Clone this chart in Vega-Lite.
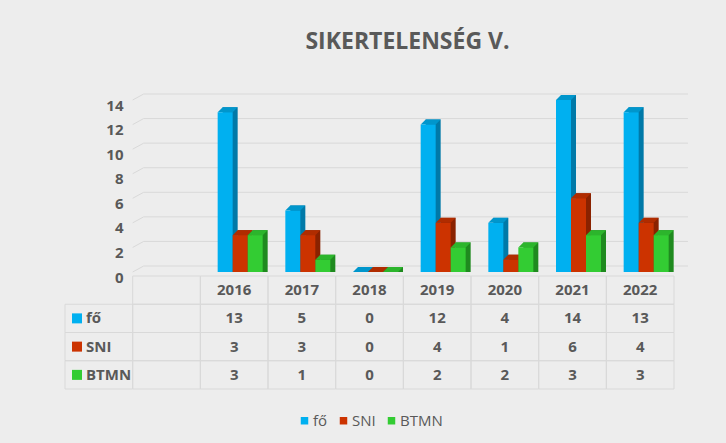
{
  "$schema": "https://vega.github.io/schema/vega-lite/v6.json",
  "background": "#ededed",
  "padding": {"left": 64, "top": 30, "right": 39, "bottom": 15},
  "title": {"text": "SIKERTELENSÉG V.", "dx": 31, "offset": 40},
  "datasets": {
    "bars": [
      {"year": "2016", "series": "fő", "value": 13},
      {"year": "2017", "series": "fő", "value": 5},
      {"year": "2018", "series": "fő", "value": 0},
      {"year": "2019", "series": "fő", "value": 12},
      {"year": "2020", "series": "fő", "value": 4},
      {"year": "2021", "series": "fő", "value": 14},
      {"year": "2022", "series": "fő", "value": 13},
      {"year": "2016", "series": "SNI", "value": 3},
      {"year": "2017", "series": "SNI", "value": 3},
      {"year": "2018", "series": "SNI", "value": 0},
      {"year": "2019", "series": "SNI", "value": 4},
      {"year": "2020", "series": "SNI", "value": 1},
      {"year": "2021", "series": "SNI", "value": 6},
      {"year": "2022", "series": "SNI", "value": 4},
      {"year": "2016", "series": "BTMN", "value": 3},
      {"year": "2017", "series": "BTMN", "value": 1},
      {"year": "2018", "series": "BTMN", "value": 0},
      {"year": "2019", "series": "BTMN", "value": 2},
      {"year": "2020", "series": "BTMN", "value": 2},
      {"year": "2021", "series": "BTMN", "value": 3},
      {"year": "2022", "series": "BTMN", "value": 3}
    ],
    "grid": [{"g": 0}, {"g": 2}, {"g": 4}, {"g": 6}, {"g": 8}, {"g": 10}, {"g": 12}, {"g": 14}]
  },
  "bounds": "flush",
  "spacing": 4,
  "vconcat": [
    {
      "width": 609,
      "height": 172,
      "encoding": {
        "x": {"field": "year", "type": "nominal", "axis": null,
              "scale": {"domain": ["hdr", "blank", "2016", "2017", "2018", "2019", "2020", "2021", "2022"], "paddingInner": 0, "paddingOuter": 0}},
        "y": {"field": "value", "type": "quantitative", "stack": null,
              "scale": {"domain": [0, 14], "nice": false},
              "axis": {"values": [0, 2, 4, 6, 8, 10, 12, 14], "title": null, "grid": false, "ticks": false, "domain": false,
                       "offset": -68, "labelPadding": 10, "labelOffset": 5,
                       "labelFont": "Open Sans", "labelFontSize": 15, "labelFontWeight": "bold", "labelColor": "#595959"}}
      },
      "layer": [
        {
          "data": {"name": "grid"},
          "mark": {"type": "rule", "color": "#d9d9d9", "strokeWidth": 1, "xOffset": 11, "x2Offset": 14, "yOffset": -6},
          "encoding": {
            "x": {"datum": "blank", "bandPosition": 0},
            "x2": {"datum": "2022", "bandPosition": 1},
            "y": {"field": "g", "type": "quantitative"}
          }
        },
        {
          "data": {"name": "grid"},
          "mark": {"type": "rule", "color": "#d9d9d9", "strokeWidth": 1, "x2Offset": 11, "y2Offset": -6},
          "encoding": {
            "x": {"datum": "blank", "bandPosition": 0},
            "x2": {"datum": "blank", "bandPosition": 0},
            "y": {"field": "g", "type": "quantitative"},
            "y2": {"field": "g"}
          }
        },
        {
          "data": {"name": "bars"},
          "transform": [{"filter": {"field": "series", "equal": "fő"}}],
          "mark": {"type": "bar", "width": 15, "xOffset": -4, "yOffset": -5, "y2Offset": -5, "color": "#0079a8", "opacity": 1}
        },
        {
          "data": {"name": "bars"},
          "transform": [{"filter": {"field": "series", "equal": "fő"}}],
          "mark": {"type": "point", "shape": "M-7.5,0L7.5,0L12.5,-5L-2.5,-5Z", "size": 4, "filled": true, "color": "#0096cc", "opacity": 1, "strokeWidth": 0, "xOffset": -9}
        },
        {
          "data": {"name": "bars"},
          "transform": [{"filter": {"field": "series", "equal": "fő"}}],
          "mark": {"type": "bar", "width": 15, "xOffset": -9, "opacity": 1},
          "encoding": {
            "color": {"field": "series", "type": "nominal",
                      "scale": {"domain": ["fő", "SNI", "BTMN"], "range": ["#00b0f0", "#cc3300", "#33cc33"]},
                      "legend": {"title": null, "orient": "bottom", "direction": "horizontal", "symbolType": "square", "symbolSize": 56,
                                 "symbolStrokeWidth": 0, "labelFont": "Open Sans", "labelFontSize": 15, "labelColor": "#595959",
                                 "columnPadding": 8, "labelOffset": 1, "offset": 23}}
          }
        },
        {
          "data": {"name": "bars"},
          "transform": [{"filter": {"field": "series", "equal": "SNI"}}],
          "mark": {"type": "bar", "width": 15, "xOffset": 11, "yOffset": -5, "y2Offset": -5, "color": "#8a2200", "opacity": 1}
        },
        {
          "data": {"name": "bars"},
          "transform": [{"filter": {"field": "series", "equal": "SNI"}}],
          "mark": {"type": "point", "shape": "M-7.5,0L7.5,0L12.5,-5L-2.5,-5Z", "size": 4, "filled": true, "color": "#b02c00", "opacity": 1, "strokeWidth": 0, "xOffset": 6}
        },
        {
          "data": {"name": "bars"},
          "transform": [{"filter": {"field": "series", "equal": "SNI"}}],
          "mark": {"type": "bar", "width": 15, "xOffset": 6, "opacity": 1},
          "encoding": {"color": {"field": "series", "type": "nominal"}}
        },
        {
          "data": {"name": "bars"},
          "transform": [{"filter": {"field": "series", "equal": "BTMN"}}],
          "mark": {"type": "bar", "width": 15, "xOffset": 26, "yOffset": -5, "y2Offset": -5, "color": "#1f8a1f", "opacity": 1}
        },
        {
          "data": {"name": "bars"},
          "transform": [{"filter": {"field": "series", "equal": "BTMN"}}],
          "mark": {"type": "point", "shape": "M-7.5,0L7.5,0L12.5,-5L-2.5,-5Z", "size": 4, "filled": true, "color": "#2cb52c", "opacity": 1, "strokeWidth": 0, "xOffset": 21}
        },
        {
          "data": {"name": "bars"},
          "transform": [{"filter": {"field": "series", "equal": "BTMN"}}],
          "mark": {"type": "bar", "width": 15, "xOffset": 21, "opacity": 1},
          "encoding": {"color": {"field": "series", "type": "nominal"}}
        }
      ]
    },
    {
      "width": 609,
      "height": 113,
      "data": {"name": "bars"},
      "encoding": {
        "x": {"field": "year", "type": "nominal", "axis": null,
              "scale": {"domain": ["hdr", "blank", "2016", "2017", "2018", "2019", "2020", "2021", "2022"], "paddingInner": 0, "paddingOuter": 0}},
        "y": {"field": "series", "type": "nominal", "axis": null,
              "scale": {"domain": ["yr", "fő", "SNI", "BTMN"], "paddingInner": 0, "paddingOuter": 0}}
      },
      "layer": [
        {
          "mark": {"type": "rect", "filled": false, "stroke": "#d9d9d9", "strokeWidth": 1}
        },
        {
          "transform": [{"filter": {"field": "series", "equal": "fő"}}],
          "mark": {"type": "rect", "filled": false, "stroke": "#d9d9d9", "strokeWidth": 1},
          "encoding": {"y": {"datum": "yr"}}
        },
        {
          "transform": [{"filter": {"field": "year", "equal": "2016"}}],
          "mark": {"type": "rect", "filled": false, "stroke": "#d9d9d9", "strokeWidth": 1},
          "encoding": {"x": {"datum": "blank"}}
        },
        {
          "transform": [{"filter": {"field": "year", "equal": "2016"}}],
          "mark": {"type": "rect", "filled": false, "stroke": "#d9d9d9", "strokeWidth": 1},
          "encoding": {"x": {"datum": "hdr"}}
        },
        {
          "transform": [{"filter": {"field": "year", "equal": "2016"}}, {"filter": {"field": "series", "equal": "fő"}}],
          "mark": {"type": "rect", "filled": false, "stroke": "#d9d9d9", "strokeWidth": 1},
          "encoding": {"x": {"datum": "blank"}, "y": {"datum": "yr"}}
        },
        {
          "transform": [{"filter": {"field": "series", "equal": "fő"}}],
          "mark": {"type": "text", "font": "Open Sans", "fontSize": 15, "fontWeight": "bold", "color": "#595959"},
          "encoding": {"y": {"datum": "yr"}, "text": {"field": "year"}}
        },
        {
          "mark": {"type": "text", "font": "Open Sans", "fontSize": 15, "fontWeight": "bold", "color": "#595959"},
          "encoding": {"text": {"field": "value", "type": "quantitative"}}
        },
        {
          "transform": [{"filter": {"field": "year", "equal": "2016"}}],
          "mark": {"type": "text", "font": "Open Sans", "fontSize": 15, "fontWeight": "bold", "color": "#595959", "align": "left", "dx": 21},
          "encoding": {"x": {"datum": "hdr", "bandPosition": 0}, "text": {"field": "series"}}
        },
        {
          "transform": [{"filter": {"field": "year", "equal": "2016"}}],
          "mark": {"type": "point", "shape": "square", "size": 100, "filled": true, "opacity": 1, "strokeWidth": 0, "xOffset": 12},
          "encoding": {"x": {"datum": "hdr", "bandPosition": 0},
                       "color": {"field": "series", "type": "nominal", "scale": {"domain": ["fő", "SNI", "BTMN"], "range": ["#00b0f0", "#cc3300", "#33cc33"]}}}
        }
      ]
    }
  ],
  "config": {
    "view": {"stroke": null},
    "legend": {"layout": {"bottom": {"anchor": "middle"}}},
    "title": {"font": "Open Sans", "fontSize": 23, "fontWeight": "bold", "color": "#595959", "anchor": "middle"}
  }
}
